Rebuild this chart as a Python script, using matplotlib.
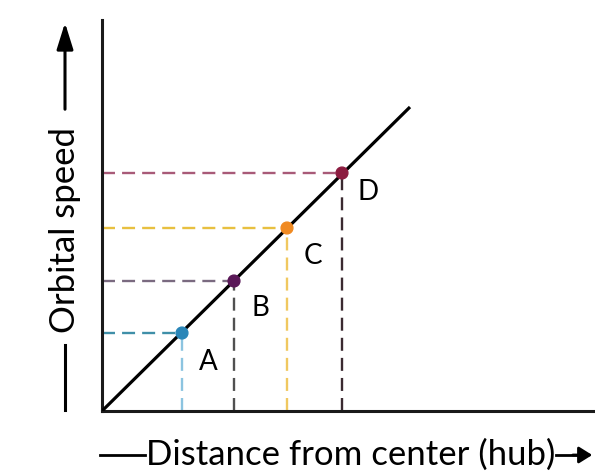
import numpy as np
import matplotlib.pyplot as plt

# distance / speed readings in plot units (origin at the hub)
labels = ['A', 'B', 'C', 'D']
distance = [80, 132, 185, 240]
speed = [78, 130, 183, 238]
point_colors = ['#2a86b8', '#5a1858', '#f08a22', '#8c1c40']
hline_colors = ['#3f8fa8', '#7a6a80', '#e8c040', '#a85a78']
vline_colors = ['#8cc4e0', '#505050', '#f0c860', '#3a2a30']
line_x = [0, 308]
line_y = [0, 304]
label_dy = [-29, -27, -28, -19]

cap_font = 'Lato'

fig = plt.figure(figsize=(5.95, 4.73), dpi=100)
ax = fig.add_axes([102 / 595, 62 / 473, 493 / 595, 391 / 473])
ax.set_xlim(0, 493)
ax.set_ylim(0, 391)

for s in ['top', 'right']:
    ax.spines[s].set_visible(False)
for s in ['left', 'bottom']:
    ax.spines[s].set_linewidth(2.2)
    ax.spines[s].set_color('#1a1a1a')
ax.set_xticks([])
ax.set_yticks([])

# dashed guides to both axes
for x, y, hc, vc in zip(distance, speed, hline_colors, vline_colors):
    ax.plot([0, x], [y, y], color=hc, lw=1.7, linestyle=(0, (5.5, 3)), zorder=2)
    ax.plot([x, x], [0, y], color=vc, lw=1.7, linestyle=(0, (5.5, 3)), zorder=2)

ax.plot(line_x, line_y, color='black', lw=2.3, zorder=3, solid_capstyle='butt')
ax.scatter(distance, speed, s=72, c=point_colors, zorder=4)

for lab, x, y, dy in zip(labels, distance, speed, label_dy):
    ax.text(x + 26, y + dy, lab, fontsize=20, family=cap_font,
            ha='center', va='center', zorder=5)

# axis captions with their arrows
fig.text(351 / 595, 1 - 455 / 473, 'Distance from center (hub)', fontsize=25,
         family=cap_font, ha='center', va='center')
fig.add_artist(plt.Line2D([100 / 595, 145 / 595], [1 - 455 / 473] * 2,
                          color='black', lw=2))
fig.add_artist(plt.Line2D([556 / 595, 580 / 595], [1 - 455 / 473] * 2,
                          color='black', lw=2))
ax.annotate('', xy=(595 / 595, 1 - 455 / 473), xytext=(570 / 595, 1 - 455 / 473),
            xycoords='figure fraction', textcoords='figure fraction',
            arrowprops=dict(arrowstyle='-|>,head_length=0.8,head_width=0.5',
                            color='black', lw=2))

fig.text(65 / 595, 1 - 230 / 473, 'Orbital speed', fontsize=25, rotation=90,
         family=cap_font, ha='center', va='center')
fig.add_artist(plt.Line2D([65 / 595] * 2, [1 - 410 / 473, 1 - 345 / 473],
                          color='black', lw=2.2))
ax.annotate('', xy=(65 / 595, 1 - 20 / 473), xytext=(65 / 595, 1 - 112 / 473),
            xycoords='figure fraction', textcoords='figure fraction',
            arrowprops=dict(arrowstyle='-|>,head_length=1.6,head_width=0.5',
                            color='black', lw=2.2))

fig.savefig('out.png', dpi=100)
